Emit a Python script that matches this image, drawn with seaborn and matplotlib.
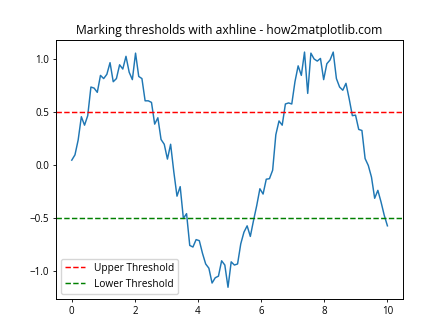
import numpy as np
import matplotlib
matplotlib.use("Agg")
import matplotlib.pyplot as plt
import seaborn as sns

plt.rcParams["font.family"] = ["Open Sans", "DejaVu Sans"]

# Sample positions and measured signal
x_values = np.linspace(0, 10, 100)
signal = [
    0.05, 0.10, 0.24, 0.46, 0.38, 0.47, 0.74, 0.73, 0.69, 0.85,
    0.82, 0.86, 0.97, 0.79, 0.82, 0.95, 0.91, 1.03, 0.88, 0.81,
    1.06, 0.84, 0.82, 0.61, 0.61, 0.595, 0.39, 0.45, 0.245, 0.20,
    0.06, 0.20, -0.06, -0.29, -0.20, -0.50, -0.455, -0.755, -0.77, -0.70,
    -0.71, -0.83, -0.93, -0.97, -1.11, -1.06, -1.045, -0.90, -0.94, -1.15,
    -0.91, -0.94, -0.93, -0.74, -0.63, -0.57, -0.67, -0.52, -0.38, -0.22,
    -0.27, -0.13, -0.125, -0.045, 0.29, 0.42, 0.38, 0.58, 0.59, 0.58,
    0.79, 0.94, 0.85, 1.07, 0.68, 1.06, 1.005, 0.985, 1.01, 0.81,
    0.96, 0.995, 1.07, 0.82, 0.74, 0.71, 0.775, 0.63, 0.47, 0.475,
    0.34, 0.33, 0.065, 0.0, -0.11, -0.31, -0.235, -0.345, -0.47, -0.57,
]

# Threshold levels
upper_threshold = 0.5
lower_threshold = -0.5

plt.rcParams["lines.linewidth"] = 1.05
plt.rcParams["axes.linewidth"] = 0.7
plt.rcParams["xtick.major.width"] = 0.6
plt.rcParams["ytick.major.width"] = 0.6
plt.rcParams["xtick.major.size"] = 2.5
plt.rcParams["ytick.major.size"] = 2.5

fig, ax = plt.subplots(figsize=(4.48, 3.36), dpi=100)
sns.lineplot(x=x_values, y=signal, ax=ax, color="#1f77b4", linewidth=1.05)
ax.axhline(upper_threshold, color="red", linestyle="--", linewidth=1.05,
           label="Upper Threshold")
ax.axhline(lower_threshold, color="green", linestyle="--", linewidth=1.05,
           label="Lower Threshold")

ax.set_title("Marking thresholds with axhline - how2matplotlib.com", fontsize=8.7, pad=4.5)
ax.tick_params(labelsize=7, pad=2.5)
ax.legend(loc="lower left", fontsize=7.3)

fig.savefig("out.png", dpi=100)
